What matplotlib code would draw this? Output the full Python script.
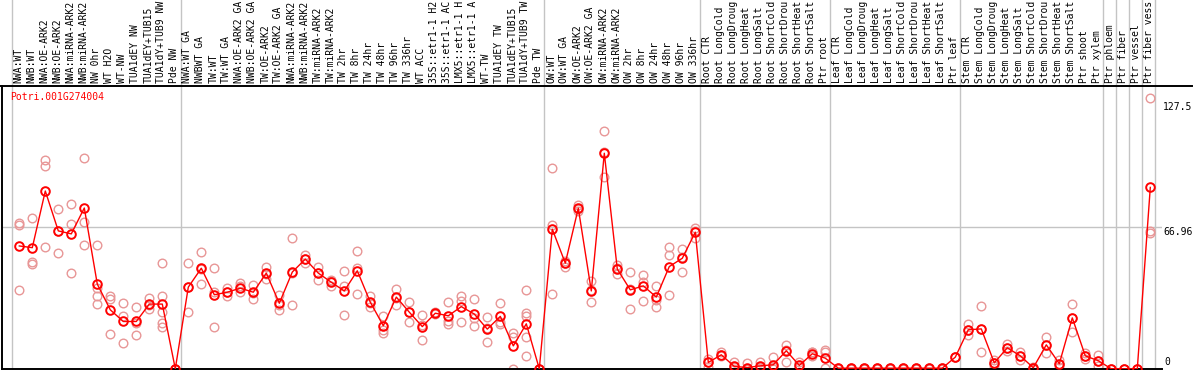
import matplotlib
matplotlib.use("Agg")
import matplotlib.pyplot as plt
from matplotlib.lines import Line2D

# ---------------- data ----------------
gene_id = "Potri.001G274004"

labels_g1 = ["NWA:WT", "NWB:WT", "NWA:OE-ARK2", "NWB:OE-ARK2", "NWA:miRNA-ARK2",
             "NWB:miRNA-ARK2", "NW 0hr", "WT H2O", "WT-NW", "TUA1dEY NW",
             "TUA1dEY+TUB15", "TUA1dY+TUB9 NW", "Pde NW"]
labels_g2 = ["NWA:WT GA", "NWBWT GA", "TW:WT", "TW:WT GA", "NWA:OE-ARK2 GA",
             "NWB:OE-ARK2 GA", "TW:OE-ARK2", "TW:OE-ARK2 GA", "NWA:miRNA-ARK2",
             "NWB:miRNA-ARK2", "TW:miRNA-ARK2", "TW:miRNA-ARK2", "TW 2hr", "TW 8hr",
             "TW 24hr", "TW 48hr", "TW 96hr", "TW 336hr", "WT ACC", "35S::etr1-1 H2",
             "35S::etr1-1 AC", "LMX5::etr1-1 H", "LMX5::etr1-1 A", "WT-TW",
             "TUA1dEY TW", "TUA1dEY+TUB15", "TUA1dY+TUB9 TW", "Pde TW"]
labels_g3 = ["OW:WT", "OW:WT GA", "OW:OE-ARK2", "OW:OE-ARK2 GA", "OW:miRNA-ARK2",
             "OW:miRNA-ARK2", "OW 2hr", "OW 8hr", "OW 24hr", "OW 48hr", "OW 96hr",
             "OW 336hr"]
labels_g4 = ["Root CTR", "Root LongCold", "Root LongDroug", "Root LongHeat",
             "Root LongSalt", "Root ShortCold", "Root ShortDrou", "Root ShortHeat",
             "Root ShortSalt", "Ptr root"]
labels_g5 = ["Leaf CTR", "Leaf LongCold", "Leaf LongDroug", "Leaf LongHeat",
             "Leaf LongSalt", "Leaf ShortCold", "Leaf ShortDrou", "Leaf ShortHeat",
             "Leaf ShortSalt", "Ptr leaf"]
labels_g6 = ["Stem CTR", "Stem LongCold", "Stem LongDroug", "Stem LongHeat",
             "Stem LongSalt", "Stem ShortCold", "Stem ShortDrou", "Stem ShortHeat",
             "Stem ShortSalt", "Ptr shoot", "Ptr xylem"]
labels_g7 = ["Ptr phloem"]
labels_g8 = ["Ptr fiber"]
labels_g9 = ["Ptr vessel"]
labels_g10 = ["Ptr fiber vess"]

means = [
    57.9, 57.1, 83.8, 65.0, 63.6, 75.8, 39.9, 27.8, 22.3, 22.3, 30.5, 30.5, 0.0,
    38.5, 47.4, 34.9, 36.1, 38.0, 36.1, 45.1, 30.9, 45.6, 51.7, 45.1, 40.8, 36.7,
    46.2, 31.4, 20.3, 33.8, 26.7, 19.9, 26.2, 25.0, 29.3, 25.8, 18.7, 24.7, 10.8,
    21.2, 0.0,
    65.8, 49.8, 75.7, 36.7, 101.6, 47.0, 37.2, 39.1, 33.8, 48.2, 52.1, 64.4,
    3.0, 6.6, 1.1, 0.6, 1.4, 1.9, 8.5, 1.6, 7.1, 5.0,
    0.3, 0.3, 0.3, 0.3, 0.3, 0.3, 0.3, 0.3, 0.3, 5.5,
    18.4, 18.8, 2.8, 9.9, 6.1, 0.5, 11.3, 2.4, 24.0, 6.1, 3.8,
    0.0, 0.0, 0.0, 85.5,
]

replicates = [
    [68.8, 67.8, 37.2], [71.1, 50.4, 49.5], [98.4, 95.6, 57.4], [75.4, 65.1, 54.5],
    [77.7, 68.1, 45.1], [99.2, 69.1, 58.4], [58.4, 38.0, 34.1, 30.6],
    [34.5, 33.0, 16.5], [30.9, 25.1, 12.2], [29.3, 21.6, 16.0], [33.6, 30.1, 28.3],
    [49.8, 34.1, 26.7, 21.8, 19.9], [0, 0, 0],
    [49.8, 38.7, 27.0], [55.2, 47.1, 39.9], [47.4, 36.4, 19.9], [38.0, 36.0, 34.4],
    [40.6, 38.8, 36.4], [39.6, 35.7, 33.0], [48.2, 44.7, 42.4], [34.9, 30.0, 27.8],
    [61.6, 45.1, 30.1], [53.7, 51.6, 49.8], [48.2, 45.2, 41.9], [41.9, 41.3, 39.2],
    [46.2, 39.2, 25.4], [55.6, 47.4, 35.2], [34.1, 31.0, 29.1], [25.1, 18.4, 16.8],
    [37.7, 33.6, 30.1], [31.4, 26.7, 22.0], [25.4, 20.6, 13.7], [26.7, 26.1, 25.8],
    [31.4, 22.3, 21.2], [34.5, 32.0, 22.0], [33.0, 24.1, 20.3], [24.2, 19.2, 12.7],
    [30.9, 22.0, 21.2], [16.8, 15.2, 0.0], [37.2, 26.2, 25.1, 14.9, 6.1], [0, 0, 0],
    [94.5, 67.8, 35.3], [50.9, 49.8, 48.2], [77.2, 75.3, 74.6], [41.4, 37.3, 31.4],
    [112.2, 102.0, 90.6], [49.0, 47.3, 44.7], [45.8, 37.5, 28.3], [44.3, 41.1, 32.0],
    [38.8, 32.2, 29.3], [57.6, 53.7, 34.9], [56.5, 52.9, 45.8], [66.3, 65.1, 61.8],
    [4.8, 3.4, 0.8], [7.7, 6.3, 5.8], [3.0, 0.8, 0.0], [2.7, 0.0, 0.0],
    [3.2, 0.8, 0.2], [5.5, 0.8, 0.0], [11.3, 8.9, 3.2], [3.2, 0.8, 0.8],
    [7.7, 7.7, 5.8], [8.9, 7.7, 0.3],
    [0.5, 0.3, 0.1], [0.5, 0.3, 0.1], [0.5, 0.3, 0.1], [0.5, 0.3, 0.1],
    [0.5, 0.3, 0.1], [0.5, 0.3, 0.1], [0.5, 0.3, 0.1], [0.5, 0.3, 0.1],
    [0.5, 0.3, 0.1], [5.5, 5.5, 5.5],
    [21.0, 18.4, 15.8], [29.7, 18.8, 8.0], [4.0, 2.8, 1.5], [11.5, 9.9, 8.3],
    [8.0, 6.1, 4.2], [1.0, 0.5, 0.0], [15.0, 11.3, 7.6], [4.0, 2.4, 0.8],
    [30.6, 24.0, 17.4], [7.5, 6.1, 4.7], [6.5, 3.8, 1.1],
    [0, 0, 0], [0, 0, 0], [0, 0, 0], [127.5, 65.1, 63.9],
]

y_max_label = "127.5"
y_mid_label = "66.96"
y_mid_value = 66.96
y_max_value = 127.5

groups = [labels_g1, labels_g2, labels_g3, labels_g4, labels_g5, labels_g6,
          labels_g7, labels_g8, labels_g9, labels_g10]

# ---------------- layout ----------------
W, H = 1194, 370
fig = plt.figure(figsize=(W / 100, H / 100), dpi=100)
ax_left_px, ax_right_px = 1.5, 1162
ax_top_px, ax_bot_px = 85.5, 368.8
ax = fig.add_axes([ax_left_px / W, 1 - ax_bot_px / H,
                   (ax_right_px - ax_left_px) / W, (ax_bot_px - ax_top_px) / H])

all_labels = [l for g in groups for l in g]
n = len(all_labels)
xs = list(range(n))

px_per_unit = 13.0
x0 = -(19.3 - ax_left_px) / px_per_unit
x1 = x0 + (ax_right_px - ax_left_px) / px_per_unit
ax.set_xlim(x0, x1)
# y: 0 at bottom spine, 127.5 at pixel 98.3
ppv = (ax_bot_px - 98.3) / y_max_value
ax.set_ylim(0, (ax_bot_px - ax_top_px) / ppv)

mono = "DejaVu Sans Mono"
red = "#ff0000"
pink = "#e89696"
grid_c = "#c4c4c4"

# vertical group separators extending to top of figure
h_frac = (ax_bot_px - ax_top_px) / H
bot_frac = 1 - ax_bot_px / H
ymax_ext = (1 - bot_frac) / h_frac
start = 0
seps = []
for g in groups:
    seps.append(start - 0.6)
    start += len(g)
seps.append(start - 0.6)
for s in seps:
    ax.axvline(s, ymin=0, ymax=ymax_ext, color=grid_c, lw=1.0, clip_on=False, zorder=0)

ax.axhline(y_mid_value, color=grid_c, lw=1.0, zorder=0)

# replicates
for i, reps in enumerate(replicates):
    ax.plot([xs[i]] * len(reps), reps, linestyle="none", marker="o", ms=6.2,
            mfc="none", mec=pink, mew=1.0, zorder=2)

# means
ax.plot(xs, means, color=red, lw=1.0, marker="o", ms=6.2, mfc="none",
        mec=red, mew=1.4, zorder=3)

for sp in ["right", "top"]:
    ax.spines[sp].set_visible(False)
ax.spines["left"].set_linewidth(1.4)
ax.spines["bottom"].set_linewidth(1.4)
ax.spines["left"].set_color("black")
ax.spines["bottom"].set_color("black")
ax.set_xticks([])
ax.set_yticks([])

# top black line across the figure
fig.add_artist(Line2D([0, 1192 / W], [1 - ax_top_px / H] * 2, color="black", lw=1.4,
                      transform=fig.transFigure))

# rotated sample labels
for i, lab in enumerate(all_labels):
    xp = ax_left_px + (xs[i] - x0) * px_per_unit - 1.0
    fig.text(xp / W, 1 - 83 / H, lab, rotation=90, ha="center", va="bottom",
             fontsize=7, family=mono, color="black")

# gene id
fig.text(10 / W, 1 - 96.5 / H, gene_id, ha="left", va="center", fontsize=7,
         family=mono, color=red)

# right side value labels
fig.text(1163 / W, 1 - 107 / H, y_max_label, ha="left", va="center", fontsize=7,
         family=mono)
fig.text(1163 / W, 1 - 232 / H, y_mid_label, ha="left", va="center", fontsize=7,
         family=mono)
fig.text(1164 / W, 1 - 362 / H, "0", ha="left", va="center", fontsize=7,
         family=mono)

fig.savefig("out.png", dpi=100)
